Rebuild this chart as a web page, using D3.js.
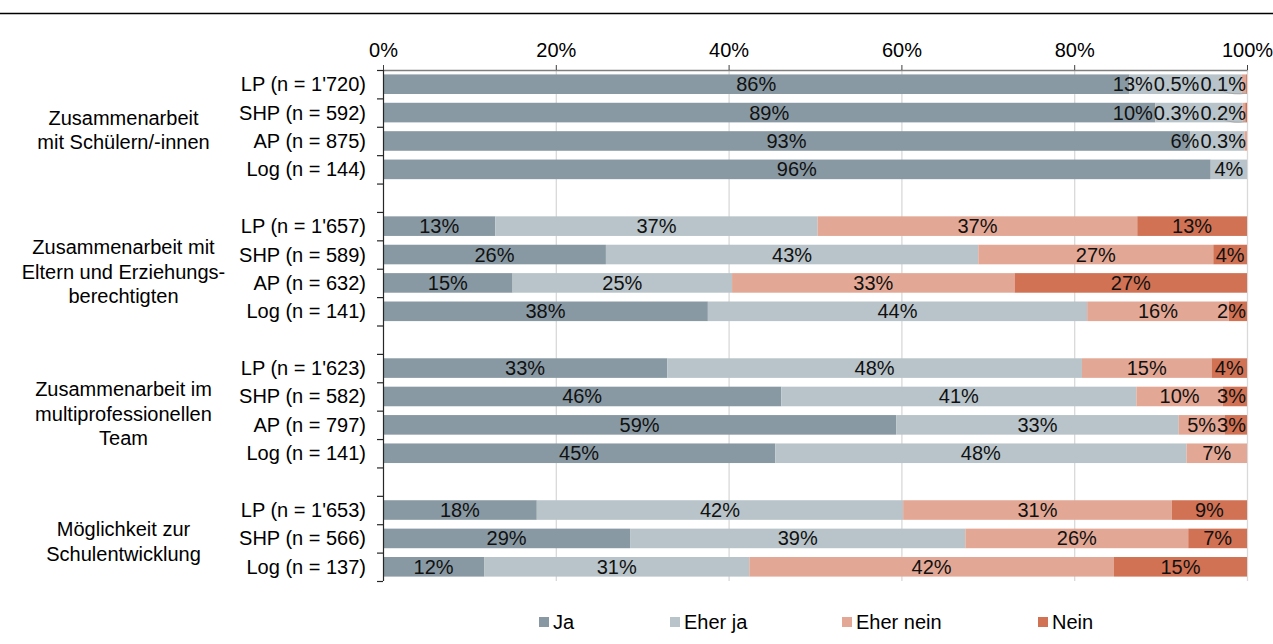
<!DOCTYPE html>
<html>
<head>
<meta charset="utf-8">
<script src="https://cdn.jsdelivr.net/npm/d3@7"></script>
<style>
  html, body { margin: 0; padding: 0; background: #fff; }
  svg { display: block; font-family: "Liberation Sans", Arial, sans-serif; }
</style>
</head>
<body>
<svg id="chart" width="1273" height="644"></svg>
<script>
// ---- data -------------------------------------------------------------
const groupLabels = [
  ["Zusammenarbeit", "mit Schülern/-innen"],
  ["Zusammenarbeit mit", "Eltern und Erziehungs-", "berechtigten"],
  ["Zusammenarbeit im", "multiprofessionellen", "Team"],
  ["Möglichkeit zur", "Schulentwicklung"]
];

const categories = [
  "LP (n = 1'720)", "SHP (n = 592)", "AP (n = 875)", "Log (n = 144)",
  "LP (n = 1'657)", "SHP (n = 589)", "AP (n = 632)", "Log (n = 141)",
  "LP (n = 1'623)", "SHP (n = 582)", "AP (n = 797)", "Log (n = 141)",
  "LP (n = 1'653)", "SHP (n = 566)", "Log (n = 137)"
];
const categoryGroup = [0, 0, 0, 0, 1, 1, 1, 1, 2, 2, 2, 2, 3, 3, 3];

const seriesNames = ["Ja", "Eher ja", "Eher nein", "Nein"];
const ja       = [86.4, 89.4, 93.4, 95.8, 13.0, 25.8, 15.0, 37.6, 32.9, 46.1, 59.4, 45.4, 17.8, 28.6, 11.7];
const eherJa   = [13.0, 10.1,  6.3,  4.2, 37.3, 43.1, 25.4, 43.9, 48.0, 41.1, 32.7, 47.6, 42.4, 38.8, 30.7];
const eherNein = [ 0.5,  0.3,  0.3,  0.0, 37.0, 27.2, 32.7, 16.4, 15.0, 10.0,  5.3,  7.0, 31.1, 25.8, 42.2];
const nein     = [ 0.1,  0.2,  0.0,  0.0, 12.7,  3.9, 26.9,  2.1,  4.1,  2.8,  2.6,  0.0,  8.7,  6.8, 15.4];

const xTicks = [0, 20, 40, 60, 80, 100];
const colors = ["#8899a3", "#b8c4c9", "#e3a895", "#d27254"];

// ---- layout -----------------------------------------------------------
const svg = d3.select("#chart");
const plotLeft = 383, plotRight = 1247, plotTop = 70, plotBottom = 581;
const fontSize = 20;

// One row per bar, with an empty row between the groups.
const rows = [];
categories.forEach((c, i) => {
  if (i > 0 && categoryGroup[i] !== categoryGroup[i - 1]) rows.push({ key: "gap" + i, blank: true });
  rows.push({ key: "r" + i, blank: false, index: i, label: c, group: categoryGroup[i] });
});

const x = d3.scaleLinear().domain([0, 100]).range([plotLeft, plotRight]);
const y = d3.scaleBand().domain(rows.map(r => r.key)).range([plotTop, plotBottom])
  .paddingInner(0.31).paddingOuter(0.155);
const step = y.step();

// rule at the very top
svg.append("line").attr("x1", 0).attr("x2", 1273).attr("y1", 13.5).attr("y2", 13.5)
  .attr("stroke", "#000").attr("stroke-width", 1.6);

// vertical gridlines
svg.append("g").selectAll("line").data(xTicks.filter(t => t > 0)).join("line")
  .attr("x1", d => x(d) + 0.5).attr("x2", d => x(d) + 0.5)
  .attr("y1", plotTop).attr("y2", plotBottom)
  .attr("stroke", "#d9d9d9").attr("stroke-width", 1.3);

// top percentage axis
const xAxis = svg.append("g").attr("transform", `translate(0,${plotTop})`)
  .call(d3.axisTop(x).tickValues(xTicks).tickFormat(d => d + "%").tickSize(5).tickSizeOuter(0));
xAxis.select(".domain").attr("stroke", "#7f7f7f").attr("stroke-width", 1.3);
xAxis.selectAll(".tick line").attr("stroke", "#3f3f3f");
xAxis.selectAll(".tick text").attr("font-size", fontSize).attr("fill", "#000")
  .attr("font-family", "Liberation Sans, Arial, sans-serif").attr("dy", "-0.25em");

// stacked segments
const stackInput = categories.map((c, i) => ({
  key: "r" + i, "Ja": ja[i], "Eher ja": eherJa[i], "Eher nein": eherNein[i], "Nein": nein[i]
}));
const stacked = d3.stack().keys(seriesNames)(stackInput);

const barG = svg.append("g");
stacked.forEach((layer, si) => {
  barG.append("g").attr("fill", colors[si]).selectAll("rect")
    .data(layer).join("rect")
    .attr("x", d => x(d[0]))
    .attr("y", d => y(d.data.key))
    .attr("width", d => Math.max(0, x(d[1]) - x(d[0])))
    .attr("height", y.bandwidth());
});

// left axis line and ticks between categories
const yAxisG = svg.append("g");
yAxisG.append("line").attr("x1", plotLeft + 0.5).attr("x2", plotLeft + 0.5)
  .attr("y1", plotTop).attr("y2", plotBottom).attr("stroke", "#262626").attr("stroke-width", 1.2);
yAxisG.selectAll("line.tick").data(d3.range(rows.length + 1)).join("line")
  .attr("class", "tick")
  .attr("x1", plotLeft - 6).attr("x2", plotLeft)
  .attr("y1", i => plotTop + i * step + 0.5).attr("y2", i => plotTop + i * step + 0.5)
  .attr("stroke", "#262626").attr("stroke-width", 1.2);

// category labels
svg.append("g").selectAll("text").data(rows.filter(r => !r.blank)).join("text")
  .attr("x", 366).attr("y", r => y(r.key) + y.bandwidth() / 2)
  .attr("dy", "0.35em").attr("text-anchor", "end")
  .attr("font-size", fontSize).attr("fill", "#000")
  .text(r => r.label);

// group labels
groupLabels.forEach((lines, g) => {
  const members = rows.filter(r => !r.blank && r.group === g);
  const y0 = y(members[0].key), y1 = y(members[members.length - 1].key) + y.bandwidth();
  const cy = (y0 + y1) / 2;
  const lh = 24.5;
  const t = svg.append("text").attr("text-anchor", "middle")
    .attr("font-size", fontSize).attr("fill", "#000");
  lines.forEach((ln, k) => {
    t.append("tspan").attr("x", 123.5)
      .attr("y", cy + (k - (lines.length - 1) / 2) * lh + 3)
      .attr("dy", "0.35em").text(ln);
  });
});

// value labels, centred in each segment and pushed left where they would crowd the end
const fmt = v => v < 1 ? d3.format(".1f")(v) + "%" : Math.round(v) + "%";
const labelG = svg.append("g");
const leaderG = svg.append("g");
categories.forEach((c, i) => {
  const key = "r" + i;
  const cyRow = y(key) + y.bandwidth() / 2;
  const items = [];
  stacked.forEach(layer => {
    const d = layer[i];
    const v = d[1] - d[0];
    if (v <= 0) return;
    const t = labelG.append("text")
      .attr("y", cyRow).attr("dy", "0.35em").attr("text-anchor", "middle")
      .attr("font-size", fontSize).attr("fill", "#111")
      .text(fmt(v));
    const w = t.node().getComputedTextLength();
    items.push({ t, w, cx: (x(d[0]) + x(d[1])) / 2, x0: x(d[0]), x1: x(d[1]), segW: x(d[1]) - x(d[0]) });
  });
  let limit = plotRight - 1;
  for (let k = items.length - 1; k >= 0; k--) {
    const it = items[k];
    if (it.cx + it.w / 2 > limit) it.cx = limit - it.w / 2;
    limit = it.cx - it.w / 2 - 1;
  }
  items.forEach(it => {
    it.t.attr("x", it.cx);
    if (it.segW < 2) {
      const sx = (it.x0 + it.x1) / 2;
      leaderG.append("path")
        .attr("d", `M${it.cx},${cyRow + 7} Q${it.cx + 10},${cyRow + 11} ${sx},${cyRow + 9}`)
        .attr("fill", "none").attr("stroke", "#a6a6a6").attr("stroke-width", 1);
    }
  });
});

// legend
const legendX = [539, 670, 842, 1038];
const legend = svg.append("g").selectAll("g").data(seriesNames).join("g")
  .attr("transform", (d, i) => `translate(${legendX[i]},622)`);
legend.append("rect").attr("x", 0).attr("y", -5).attr("width", 10).attr("height", 10)
  .attr("fill", (d, i) => colors[i]);
legend.append("text").attr("x", 14).attr("dy", "0.35em")
  .attr("font-size", fontSize).attr("fill", "#000").text(d => d);
</script>
</body>
</html>
